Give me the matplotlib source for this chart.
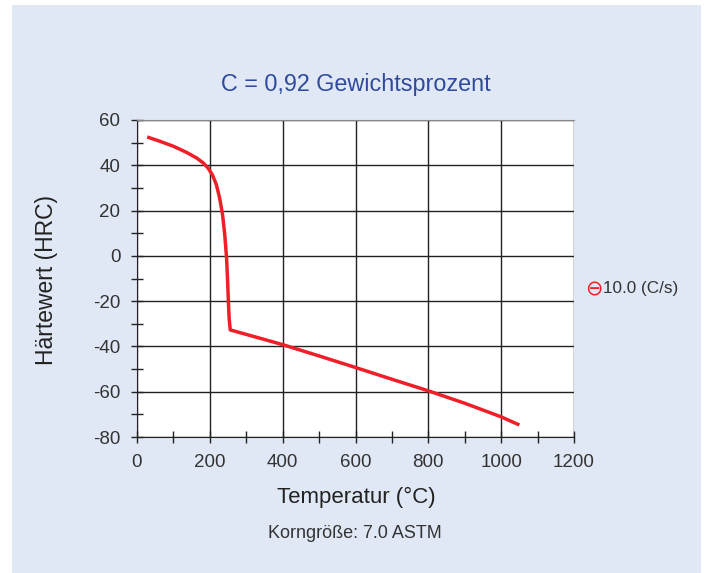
import matplotlib
matplotlib.use("Agg")
import matplotlib.pyplot as plt
from matplotlib.patches import Rectangle
from matplotlib.ticker import MultipleLocator

# cooling curve, 10 C/s
temp = [28, 63, 100, 136, 164, 182, 195, 207, 218, 227, 235, 241, 246, 248.5, 251, 253, 256,
        400, 500, 600, 700, 800, 900, 1000, 1050]
hrc = [52.5, 50.6, 48.4, 45.7, 43.2, 41.0, 38.8, 35.8, 31.4, 25.5, 18.1, 9.3, -1.0, -9.9, -20.2, -27.6, -32.7,
       -39.2, -44.2, -49.3, -54.5, -59.6, -65.1, -71.1, -74.7]

x_ticks = [0, 200, 400, 600, 800, 1000, 1200]
y_ticks = [60, 40, 20, 0, -20, -40, -60, -80]
series_label = "10.0 (C/s)"
title = "C = 0,92 Gewichtsprozent"
grain = "Korngröße: 7.0 ASTM"

plt.rcParams['font.family'] = ['Liberation Sans', 'DejaVu Sans']
plt.rcParams['axes.unicode_minus'] = False
text_col = "#333333"
red = "#ee1f28"

fig = plt.figure(figsize=(7.05, 5.73), dpi=100)
fig.patch.set_facecolor("white")
fig.patches.append(Rectangle((12 / 705, 0), 689 / 705, 568 / 573,
                             transform=fig.transFigure, facecolor="#e1e8f5",
                             edgecolor="none", zorder=-10))

ax = fig.add_axes([137 / 705, 1 - 437 / 573, 437 / 705, 317 / 573])
ax.set_facecolor("white")
ax.plot(temp, hrc, color=red, lw=2.5, solid_capstyle="butt", solid_joinstyle="round", zorder=3)

ax.set_xlim(0, 1200)
ax.set_ylim(-80, 60)
ax.set_xticks(x_ticks)
ax.set_yticks(y_ticks)
ax.xaxis.set_minor_locator(MultipleLocator(100))
ax.yaxis.set_minor_locator(MultipleLocator(10))
ax.tick_params(which="both", direction="inout", length=8, width=1, color="#222222",
               labelsize=13.5, labelcolor=text_col)
ax.tick_params(axis="y", pad=8)
ax.tick_params(axis="x", pad=8.5)
ax.grid(True, which="major", color="#222222", lw=1)

ax.spines["right"].set_visible(False)
ax.spines["top"].set_color("#888888")
for s in ["left", "bottom"]:
    ax.spines[s].set_color("#222222")

fig.text(356 / 705, 1 - 85 / 573, title, ha="center", va="center", fontsize=16.8, color="#2f4a9e")
fig.text(47 / 705, 1 - 280 / 573, "Härtewert (HRC)", ha="center", va="center",
         rotation=90, fontsize=16.5, color="#222222")
fig.text(356 / 705, 1 - 497 / 573, "Temperatur (°C)", ha="center", va="center",
         fontsize=16, color="#222222")
fig.text(355 / 705, 1 - 534 / 573, grain, ha="center", va="center", fontsize=13, color=text_col)

fig.text(585 / 705, 1 - 289 / 573, "⊖", ha="left", va="center", fontsize=15,
         color=red, family=['DejaVu Sans'])
fig.text(603 / 705, 1 - 289 / 573, series_label, ha="left", va="center",
         fontsize=12.3, color=text_col)

fig.savefig("out.png", dpi=100)
